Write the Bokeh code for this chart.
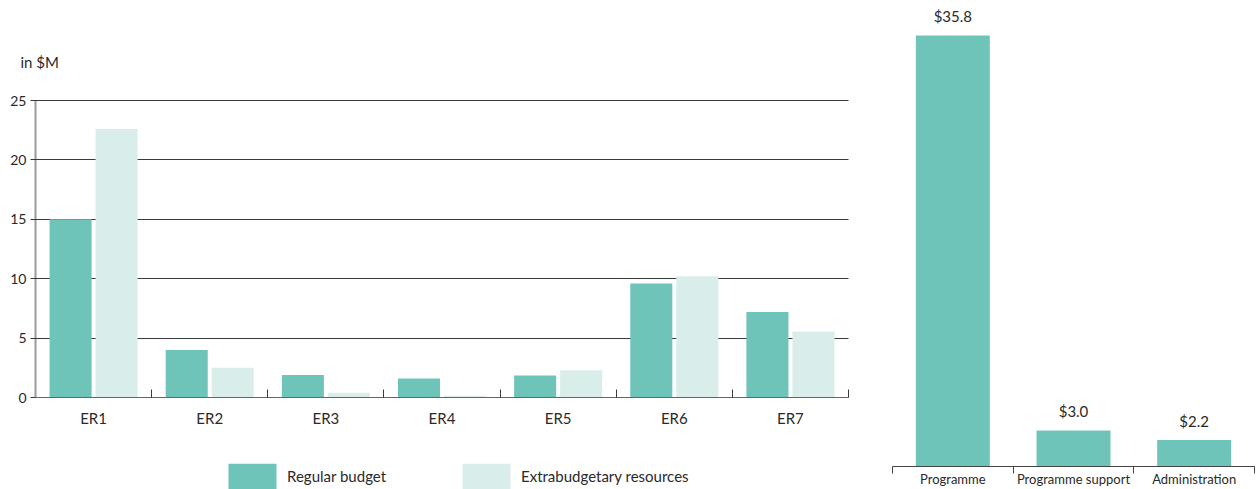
from bokeh.plotting import figure
from bokeh.layouts import row
from bokeh.models import (FixedTicker, Range1d, Legend, LegendItem, Label,
                          ColumnDataSource, LinearAxis)
from bokeh.embed import file_html
from bokeh.resources import INLINE
import numpy as np

# Expenditure by expected result (in $M)
results = ["ER1", "ER2", "ER3", "ER4", "ER5", "ER6", "ER7"]
regular_budget = [15.0, 4.0, 1.9, 1.6, 1.85, 9.6, 7.2]
extrabudgetary = [22.6, 2.5, 0.4, 0.15, 2.3, 10.2, 5.55]
y_ticks = [0, 5, 10, 15, 20, 25]

# Expenditure by function (in $M)
functions = ["Programme", "Programme support", "Administration"]
function_totals = [35.8, 3.0, 2.2]

TEAL = "#6EC4B9"
PALE = "#D9EEEA"
INK = "#2a2a2a"
RULE = "#3a3a3a"
FONT = "Lato"

# ---------------- left: grouped bars by expected result ----------------
# the plot frame fills the whole canvas; axes sit at fixed data positions
n = len(results)
centers = np.arange(n) + 0.5
src = ColumnDataSource(dict(
    x_reg=centers - 0.198,
    x_ext=centers + 0.198,
    reg=regular_budget,
    ext=extrabudgetary,
))

left = figure(width=870, height=489, output_backend="svg", toolbar_location=None,
              x_range=Range1d(-0.3014, n + 0.1894), y_range=Range1d(-7.744, 33.418),
              min_border=0, x_axis_location=None, y_axis_location=None)
left.outline_line_color = None
left.grid.visible = False

r_reg = left.vbar(x="x_reg", top="reg", width=0.362, source=src,
                  fill_color=TEAL, line_color=None)
r_ext = left.vbar(x="x_ext", top="ext", width=0.362, source=src,
                  fill_color=PALE, line_color=None)

# value axis: long inward ticks double as the horizontal rules behind the bars
yax = LinearAxis(ticker=FixedTicker(ticks=y_ticks), fixed_location=0,
                 bounds=(0, 25), level="underlay")
yax.axis_line_color = "#9a9a9a"
yax.axis_line_width = 2
yax.major_tick_out = 5
yax.major_tick_in = 813
yax.major_tick_line_color = RULE
yax.minor_tick_line_color = None
yax.major_label_standoff = 4
yax.major_label_text_font = FONT
yax.major_label_text_font_size = "14px"
yax.major_label_text_color = INK
left.add_layout(yax, "left")

xax = LinearAxis(ticker=FixedTicker(ticks=list(centers),
                                    minor_ticks=list(range(1, n + 1))),
                 fixed_location=0, bounds=(0, n))
xax.major_label_overrides = {float(c): lab for c, lab in zip(centers, results)}
xax.axis_line_color = "#666666"
xax.major_tick_line_color = None
xax.major_tick_out = 0
xax.major_tick_in = 0
xax.minor_tick_in = 8
xax.minor_tick_out = 0
xax.minor_tick_line_color = RULE
xax.major_label_standoff = 11
xax.major_label_text_font = FONT
xax.major_label_text_font_size = "15px"
xax.major_label_text_color = INK
left.add_layout(xax, "below")

left.add_layout(Label(x=-0.129, y=28.2, text="in $M", text_font=FONT,
                      text_font_size="15px", text_color=INK,
                      text_baseline="middle", text_align="left"))

legend = Legend(items=[LegendItem(label="Regular budget", renderers=[r_reg]),
                       LegendItem(label="Extrabudgetary resources", renderers=[r_ext])],
                location=(222, -3), orientation="horizontal",
                glyph_width=60, glyph_height=32, label_standoff=5,
                label_width=100, spacing=69, padding=0, margin=0,
                border_line_color=None, background_fill_alpha=0,
                label_text_font=FONT, label_text_font_size="15px",
                label_text_color=INK)
left.add_layout(legend, "center")

# ---------------- right: totals by function ----------------
m = len(functions)
fcenters = np.arange(m) + 0.5
fsrc = ColumnDataSource(dict(
    x=fcenters,
    top=function_totals,
    label=["$%.1f" % v for v in function_totals],
))

right = figure(width=387, height=489, output_backend="svg", toolbar_location=None,
               x_range=Range1d(-0.1823, m + 0.0249), y_range=Range1d(-1.910, 38.70),
               min_border=0, x_axis_location=None, y_axis_location=None)
right.outline_line_color = None
right.grid.visible = False

right.vbar(x="x", top="top", width=0.613, source=fsrc,
           fill_color=TEAL, line_color=None)
right.text(x="x", y="top", text="label", source=fsrc, y_offset=-10,
           text_align="center", text_baseline="bottom",
           text_font={"value": FONT}, text_font_size="15px", text_color=INK)

fax = LinearAxis(ticker=FixedTicker(ticks=list(fcenters),
                                    minor_ticks=list(range(0, m + 1))),
                 fixed_location=0, bounds=(0, m))
fax.major_label_overrides = {float(c): lab for c, lab in zip(fcenters, functions)}
fax.axis_line_color = "#444444"
fax.major_tick_line_color = None
fax.major_tick_out = 0
fax.major_tick_in = 0
fax.minor_tick_out = 7
fax.minor_tick_in = 0
fax.minor_tick_line_color = "#444444"
fax.major_label_standoff = -3
fax.major_label_text_font = FONT
fax.major_label_text_font_size = "13px"
fax.major_label_text_color = INK
right.add_layout(fax, "below")

layout = row(left, right)
open("out.html", "w").write(file_html(layout, INLINE))
